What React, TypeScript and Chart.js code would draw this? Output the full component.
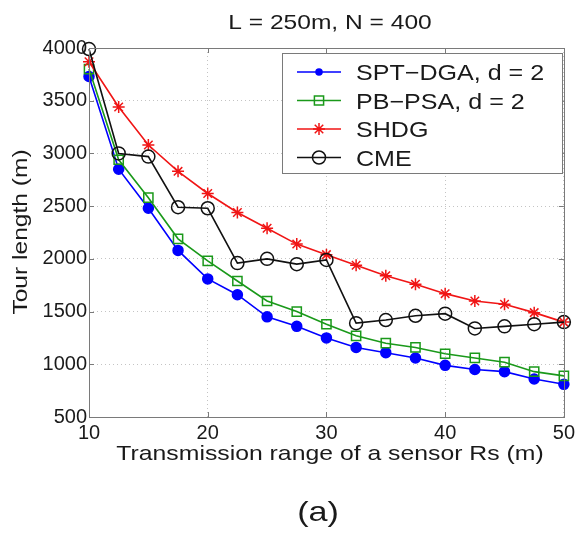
import React, { useEffect, useRef } from 'react';
import { Chart, registerables } from 'chart.js';
import { drawPoint } from 'chart.js/helpers';

Chart.register(...registerables);

const rangeRs = [10, 12.5, 15, 17.5, 20, 22.5, 25, 27.5, 30, 32.5, 35, 37.5, 40, 42.5, 45, 47.5, 50];
const sptDga = [3730, 2850, 2480, 2080, 1810, 1660, 1450, 1360, 1250, 1160, 1110, 1060, 990, 950, 930, 860, 810];
const pbPsa = [3800, 2940, 2580, 2190, 1980, 1790, 1600, 1500, 1380, 1270, 1200, 1160, 1100, 1060, 1020, 930, 890];
const shdg = [3870, 3440, 3080, 2830, 2620, 2440, 2290, 2140, 2040, 1940, 1840, 1760, 1670, 1600, 1570, 1490, 1400];
const cme = [3990, 3000, 2970, 2490, 2480, 1960, 2000, 1950, 1990, 1390, 1420, 1460, 1480, 1340, 1360, 1380, 1400];
const seriesNames = ['SPT\u2212DGA, d = 2', 'PB\u2212PSA, d = 2', 'SHDG', 'CME'];
const xTicks = [10, 20, 30, 40, 50];
const yTicks = [500, 1000, 1500, 2000, 2500, 3000, 3500, 4000];
const titleText = 'L = 250m, N = 400';
const xTitle = 'Transmission range of a sensor Rs (m)';
const yTitle = 'Tour length (m)';
const subLabel = '(a)';

const FONT = "'Liberation Sans', Arial, Helvetica, sans-serif";
const TEXT = '#1a1a1a';
const AXIS = '#7a7a7a';

const styles = [
  { color: '#0000ff', pointStyle: 'circle', radius: 5, fill: '#0000ff', legendRadius: 3 },
  { color: '#1a991a', pointStyle: 'rect', radius: 6.5, fill: 'rgba(0,0,0,0)', legendRadius: 6.5 },
  { color: '#f01515', pointStyle: 'star', radius: 6, fill: 'rgba(0,0,0,0)', legendRadius: 6 },
  { color: '#111111', pointStyle: 'circle', radius: 6.5, fill: 'rgba(0,0,0,0)', legendRadius: 6.5 },
];

function stretchText(ctx: CanvasRenderingContext2D, text: string, x: number, y: number, size: number, sx: number, align: CanvasTextAlign, rot = 0) {
  ctx.save();
  ctx.translate(x, y);
  if (rot) ctx.rotate(rot);
  ctx.scale(sx, 1);
  ctx.font = `${size}px ${FONT}`;
  ctx.fillStyle = TEXT;
  ctx.textAlign = align;
  ctx.textBaseline = 'alphabetic';
  ctx.fillText(text, 0, 0);
  ctx.restore();
}

const decorPlugin = {
  id: 'decor',
  afterDraw(chart: any) {
    const ctx: CanvasRenderingContext2D = chart.ctx;
    const { left, right, top, bottom } = chart.chartArea;
    const xs = chart.scales.x;
    const ys = chart.scales.y;
    // box and inward ticks
    ctx.save();
    ctx.strokeStyle = AXIS;
    ctx.lineWidth = 1;
    ctx.strokeRect(Math.round(left) + 0.5, Math.round(top) + 0.5, Math.round(right - left), Math.round(bottom - top));
    ctx.beginPath();
    const tl = 5;
    xTicks.forEach((v) => {
      const px = Math.round(xs.getPixelForValue(v)) + 0.5;
      ctx.moveTo(px, bottom); ctx.lineTo(px, bottom - tl);
      ctx.moveTo(px, top); ctx.lineTo(px, top + tl);
    });
    yTicks.forEach((v) => {
      const py = Math.round(ys.getPixelForValue(v)) + 0.5;
      ctx.moveTo(left, py); ctx.lineTo(left + tl, py);
      ctx.moveTo(right, py); ctx.lineTo(right - tl, py);
    });
    ctx.stroke();
    ctx.restore();

    // texts
    stretchText(ctx, titleText, 330, 29, 21, 1.17, 'center');
    stretchText(ctx, xTitle, 330, 460, 21, 1.18, 'center');
    stretchText(ctx, yTitle, 27, 232, 21, 1.17, 'center', -Math.PI / 2);
    stretchText(ctx, subLabel, 318, 521, 28, 1.22, 'center');

    // legend
    const bx = 282.5, by = 53.5, bw = 280, bh = 120;
    ctx.save();
    ctx.fillStyle = '#ffffff';
    ctx.fillRect(bx, by, bw, bh);
    ctx.strokeStyle = AXIS;
    ctx.lineWidth = 1;
    ctx.strokeRect(bx, by, bw, bh);
    ctx.restore();
    const rows = [72, 100.5, 129, 157.5];
    seriesNames.forEach((name, i) => {
      const st = styles[i];
      const y = rows[i];
      ctx.save();
      ctx.strokeStyle = st.color;
      ctx.lineWidth = 1.6;
      ctx.beginPath();
      ctx.moveTo(297, y);
      ctx.lineTo(341, y);
      ctx.stroke();
      ctx.fillStyle = st.fill;
      ctx.strokeStyle = st.color;
      ctx.lineWidth = 1.5;
      drawPoint(ctx, { pointStyle: st.pointStyle, rotation: 0, radius: st.legendRadius, borderWidth: 1.5 } as any, 319, y);
      ctx.restore();
      stretchText(ctx, name, 356, y + 8, 22, 1.14, 'left');
    });
  },
};

export default function App() {
  const ref = useRef<HTMLCanvasElement | null>(null);
  useEffect(() => {
    if (!ref.current) return;
    const seriesValues = [sptDga, pbPsa, shdg, cme];
    const chart = new Chart(ref.current, {
      type: 'line',
      data: {
        datasets: seriesValues.map((vals, i) => ({
          label: seriesNames[i],
          data: rangeRs.map((x, j) => ({ x, y: vals[j] })),
          borderColor: styles[i].color,
          backgroundColor: styles[i].fill,
          pointStyle: styles[i].pointStyle as any,
          pointRadius: styles[i].radius,
          pointBorderWidth: 1.5,
          pointBorderColor: styles[i].color,
          pointBackgroundColor: styles[i].fill,
          borderWidth: 1.6,
          tension: 0,
          fill: false,
          clip: false as any,
          order: 4 - i,
        })),
      },
      options: {
        animation: false,
        responsive: false,
        maintainAspectRatio: false,
        events: [],
        layout: { padding: { top: 48, right: 13, left: 0, bottom: 0 } },
        plugins: {
          legend: { display: false },
          title: { display: false },
          tooltip: { enabled: false },
        },
        scales: {
          x: {
            type: 'linear',
            min: 10,
            max: 50,
            afterBuildTicks: (s: any) => { s.ticks = xTicks.map((v) => ({ value: v })); },
            afterFit: (s: any) => { s.height = 116; },
            ticks: { font: { family: FONT, size: 20 }, color: TEXT, padding: 4, maxRotation: 0, autoSkip: false, callback: (v: any) => String(v) },
            grid: { color: '#c4c4c4', lineWidth: 1, drawTicks: false },
            border: { display: false, dash: [1, 3] },
          },
          y: {
            type: 'linear',
            min: 500,
            max: 4000,
            afterBuildTicks: (s: any) => { s.ticks = yTicks.map((v) => ({ value: v })); },
            afterFit: (s: any) => { s.width = 89; },
            ticks: { font: { family: FONT, size: 20 }, color: TEXT, padding: 2, autoSkip: false, callback: (v: any) => String(v) },
            grid: { color: '#c4c4c4', lineWidth: 1, drawTicks: false },
            border: { display: false, dash: [1, 3] },
          },
        },
      },
      plugins: [decorPlugin],
    });
    return () => chart.destroy();
  }, []);
  return (
    <div style={{ position: 'fixed', left: 0, top: 0, width: 579, height: 533, background: '#fff' }}>
      <canvas ref={ref} width={579} height={533} style={{ display: 'block', width: 579, height: 533 }} />
    </div>
  );
}
